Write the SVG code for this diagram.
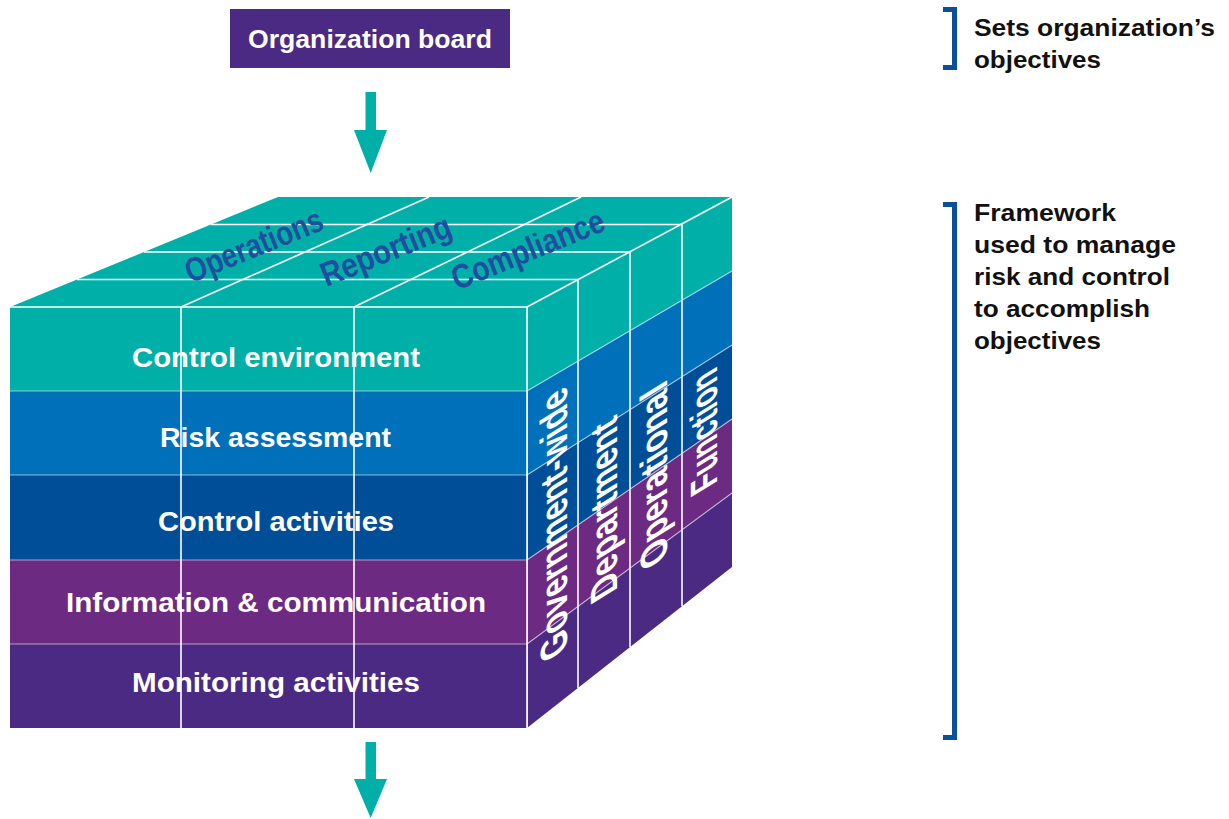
<svg xmlns="http://www.w3.org/2000/svg" width="1229" height="819" viewBox="0 0 1229 819">
  <style>
    .lbl { font-family: "Liberation Sans", Arial, sans-serif; font-weight: bold; fill: #ffffff; }
    .front { font-size: 27px; text-anchor: middle; }
    .top { font-family: "Liberation Sans", Arial, sans-serif; font-weight: bold; font-size: 34px; fill: #1F4E9E; text-anchor: middle; }
    .side { font-family: "Liberation Sans", Arial, sans-serif; font-weight: bold; font-size: 38px; fill: #ffffff; text-anchor: middle; }
    .note { font-family: "Liberation Sans", Arial, sans-serif; font-weight: bold; font-size: 23.5px; fill: #111111; }
    .grid { stroke: #ffffff; stroke-width: 1.6; fill: none; }
    .seam { stroke: #ffffff; stroke-width: 1.2; stroke-opacity: 0.55; fill: none; }
    .bracket { stroke: #0B4F9C; stroke-width: 5; fill: none; }
    .c1 { fill: #00B0A8; }
    .c2 { fill: #0070BA; }
    .c3 { fill: #004E97; }
    .c4 { fill: #6C2A82; }
    .c5 { fill: #4B2A83; }
  </style>

  <!-- board box -->
  <g id="board">
    <rect x="230" y="9" width="280" height="59" class="c5"/>
    <text class="lbl" x="370" y="48" font-size="25" text-anchor="middle" textLength="244" lengthAdjust="spacingAndGlyphs">Organization board</text>
  </g>

  <!-- cube: top face -->
  <g id="cube-top">
    <polygon class="c1" points="10,307 527,307 732,197 278,197"/>
    <line class="grid" x1="77" y1="279.5" x2="578" y2="279.5"/>
    <line class="grid" x1="144" y1="252" x2="630" y2="252"/>
    <line class="grid" x1="211" y1="224.5" x2="681" y2="224.5"/>
    <line class="grid" x1="181" y1="307" x2="429" y2="197"/>
    <line class="grid" x1="354" y1="307" x2="581" y2="197"/>
    <text class="top" transform="translate(254,246) rotate(-22)" y="11" textLength="146" lengthAdjust="spacingAndGlyphs">Operations</text>
    <text class="top" transform="translate(386,251) rotate(-22)" y="11" textLength="138" lengthAdjust="spacingAndGlyphs">Reporting</text>
    <text class="top" transform="translate(528,250) rotate(-22)" y="11" textLength="162" lengthAdjust="spacingAndGlyphs">Compliance</text>
  </g>

  <!-- cube: right face (depth levels) -->
  <g id="cube-side">
    <polygon class="c1" points="527,307 732,197 732,271 527,391"/>
    <polygon class="c2" points="527,391 732,271 732,345 527,475"/>
    <polygon class="c3" points="527,475 732,345 732,419 527,560"/>
    <polygon class="c4" points="527,560 732,419 732,493 527,644"/>
    <polygon class="c5" points="527,644 732,493 732,567 527,728"/>
    <line class="seam" x1="527" y1="391" x2="732" y2="271"/>
    <line class="seam" x1="527" y1="475" x2="732" y2="345"/>
    <line class="seam" x1="527" y1="560" x2="732" y2="419"/>
    <line class="seam" x1="527" y1="644" x2="732" y2="493"/>
    <line class="grid" x1="527" y1="307" x2="732" y2="197"/>
    <line class="grid" x1="578" y1="279.6" x2="578" y2="688"/>
    <line class="grid" x1="630" y1="251.7" x2="630" y2="647.1"/>
    <line class="grid" x1="682" y1="223.8" x2="682" y2="606.3"/>
    <line class="grid" x1="527" y1="307" x2="527" y2="728"/>
    <text class="side" transform="matrix(0,-1,1,-0.62,567,517)" textLength="266" lengthAdjust="spacingAndGlyphs">Government-wide</text>
    <text class="side" transform="matrix(0,-1,1,-0.62,617,502)" textLength="177" lengthAdjust="spacingAndGlyphs">Department</text>
    <text class="side" transform="matrix(0,-1,1,-0.62,667,468)" textLength="180" lengthAdjust="spacingAndGlyphs">Operational</text>
    <text class="side" transform="matrix(0,-1,1,-0.62,717,424)" textLength="118" lengthAdjust="spacingAndGlyphs">Function</text>
  </g>

  <!-- cube: front face (components) -->
  <g id="cube-front">
    <rect class="c1" x="10" y="307" width="517" height="84"/>
    <rect class="c2" x="10" y="391" width="517" height="84"/>
    <rect class="c3" x="10" y="475" width="517" height="85"/>
    <rect class="c4" x="10" y="560" width="517" height="84"/>
    <rect class="c5" x="10" y="644" width="517" height="84"/>
    <line class="seam" x1="10" y1="391" x2="527" y2="391"/>
    <line class="seam" x1="10" y1="475" x2="527" y2="475"/>
    <line class="seam" x1="10" y1="560" x2="527" y2="560"/>
    <line class="seam" x1="10" y1="644" x2="527" y2="644"/>
    <line class="grid" x1="10" y1="307" x2="527" y2="307"/>
    <line class="grid" x1="181" y1="307" x2="181" y2="728"/>
    <line class="grid" x1="354" y1="307" x2="354" y2="728"/>
    <line class="grid" x1="527" y1="307" x2="527" y2="728"/>
    <text class="lbl front" x="276" y="367" textLength="288" lengthAdjust="spacingAndGlyphs">Control environment</text>
    <text class="lbl front" x="275.5" y="447" textLength="231" lengthAdjust="spacingAndGlyphs">Risk assessment</text>
    <text class="lbl front" x="276" y="531" textLength="236" lengthAdjust="spacingAndGlyphs">Control activities</text>
    <text class="lbl front" x="276" y="612" textLength="420" lengthAdjust="spacingAndGlyphs">Information &amp; communication</text>
    <text class="lbl front" x="276" y="692" textLength="288" lengthAdjust="spacingAndGlyphs">Monitoring activities</text>
  </g>

  <!-- flow arrows -->
  <g id="connectors" fill="#00B0A8">
    <path d="M365.5,92 H376 V130 H387 L370.7,173 L354,130 H365.5 Z"/>
    <path d="M365.5,742 H376 V779 H387 L370.7,818 L354,779 H365.5 Z"/>
  </g>

  <!-- side notes -->
  <g id="note-objectives">
    <path class="bracket" d="M943,9.5 H954.5 V67.5 H943"/>
    <text class="note" x="974" y="36" textLength="241" lengthAdjust="spacingAndGlyphs">Sets organization’s</text>
    <text class="note" x="974" y="68" textLength="127" lengthAdjust="spacingAndGlyphs">objectives</text>
  </g>
  <g id="note-framework">
    <path class="bracket" d="M943,204.5 H954.5 V737.5 H943"/>
    <text class="note" x="974" y="221" textLength="142" lengthAdjust="spacingAndGlyphs">Framework</text>
    <text class="note" x="974" y="253" textLength="202" lengthAdjust="spacingAndGlyphs">used to manage</text>
    <text class="note" x="974" y="285" textLength="196" lengthAdjust="spacingAndGlyphs">risk and control</text>
    <text class="note" x="974" y="317" textLength="176" lengthAdjust="spacingAndGlyphs">to accomplish</text>
    <text class="note" x="974" y="349" textLength="127" lengthAdjust="spacingAndGlyphs">objectives</text>
  </g>
</svg>
